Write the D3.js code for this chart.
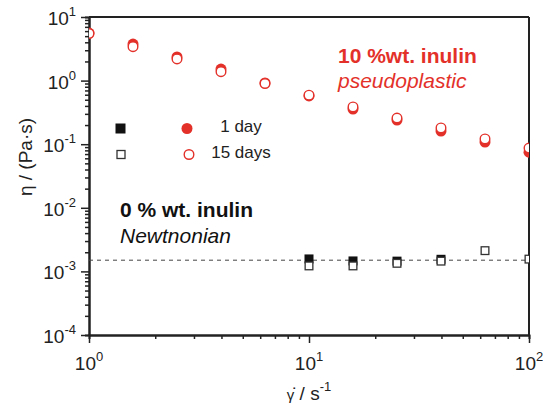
<!DOCTYPE html>
<html>
<head>
<meta charset="utf-8">
<script src="https://cdn.jsdelivr.net/npm/d3@7"></script>
<style>
  body { margin: 0; background: #fff; }
  svg { font-family: "Liberation Sans", Arial, sans-serif; }
  .axis path, .axis line { stroke: #222; }
</style>
</head>
<body>
<div id="chart"></div>
<script>
// shear rates (s^-1) and viscosities (Pa.s)
var shearRates = [1, 1.585, 2.512, 3.981, 6.31, 10, 15.85, 25.12, 39.81, 63.1, 100];
var inulin10Day1 = [5.6, 3.76, 2.35, 1.52, 0.92, 0.575, 0.357, 0.24, 0.161, 0.108, 0.075];
var inulin10Day15 = [5.5, 3.41, 2.19, 1.38, 0.90, 0.59, 0.385, 0.258, 0.18, 0.121, 0.087];

var waterRates = [10, 15.85, 25.12, 39.81, 63.1, 100];
var inulin0Day1 = [1.57e-3, 1.46e-3, 1.45e-3, 1.55e-3, null, null];
var inulin0Day15 = [1.22e-3, 1.22e-3, 1.34e-3, 1.45e-3, 2.12e-3, 1.56e-3];
var newtonianLevel = 1.5e-3;

var xExponents = [0, 1, 2];
var yExponents = [-4, -3, -2, -1, 0, 1];

var red = "#e3312a";
var margin = {top: 17, right: 14, bottom: 82, left: 89};
var width = 543 - margin.left - margin.right;
var height = 417 - margin.top - margin.bottom;

var svg = d3.select("#chart").append("svg")
  .attr("width", 543)
  .attr("height", 417);

var g = svg.append("g")
  .attr("transform", "translate(" + margin.left + "," + margin.top + ")");

var xScale = d3.scaleLog().domain([1, 100]).range([0, width]);
var yScale = d3.scaleLog().domain([1e-4, 10]).range([height, 0]);

function minorTicks(scale) {
  return scale.ticks().filter(function(v) {
    var e = Math.log10(v);
    return Math.abs(e - Math.round(e)) > 1e-6;
  });
}
function majorTicks(exps) { return exps.map(function(e) { return Math.pow(10, e); }); }

// clip so the edge markers get cut like in the original
g.append("clipPath").attr("id", "clip")
  .append("rect").attr("width", width).attr("height", height);

// minor ticks
g.append("g").attr("class", "axis")
  .attr("transform", "translate(0," + height + ")")
  .call(d3.axisBottom(xScale).tickValues(minorTicks(xScale)).tickSize(4).tickFormat(""));
g.append("g").attr("class", "axis")
  .call(d3.axisLeft(yScale).tickValues(minorTicks(yScale)).tickSize(4).tickFormat(""));

// major ticks
var xAxis = g.append("g").attr("class", "axis")
  .attr("transform", "translate(0," + height + ")")
  .call(d3.axisBottom(xScale).tickValues(majorTicks(xExponents)).tickSize(8).tickSizeOuter(0).tickFormat(""));
var yAxis = g.append("g").attr("class", "axis")
  .call(d3.axisLeft(yScale).tickValues(majorTicks(yExponents)).tickSize(8).tickSizeOuter(0).tickFormat(""));

g.selectAll(".axis path").attr("stroke-width", 2);
g.selectAll(".axis line").attr("stroke-width", 1.5);

// top and right frame
g.append("line").attr("x1", 0).attr("x2", width).attr("y1", 0).attr("y2", 0)
  .attr("stroke", "#222").attr("stroke-width", 2);
g.append("line").attr("x1", width).attr("x2", width).attr("y1", 0).attr("y2", height)
  .attr("stroke", "#222").attr("stroke-width", 2);

// tick labels with superscripts
xExponents.forEach(function(e) {
  var t = g.append("text")
    .attr("x", xScale(Math.pow(10, e)))
    .attr("y", height + 35)
    .attr("text-anchor", "middle")
    .attr("font-size", 19)
    .attr("fill", "#222");
  t.append("tspan").text("10");
  t.append("tspan").attr("dy", -9).attr("font-size", 13).text(e);
});
yExponents.forEach(function(e) {
  var t = g.append("text")
    .attr("x", -13)
    .attr("y", yScale(Math.pow(10, e)) + 8)
    .attr("text-anchor", "end")
    .attr("font-size", 19)
    .attr("fill", "#222");
  t.append("tspan").text("10");
  t.append("tspan").attr("dy", -9).attr("font-size", 13).text(e);
});

// axis titles
var xt = svg.append("text")
  .attr("x", margin.left + xScale(10))
  .attr("y", 400)
  .attr("text-anchor", "middle")
  .attr("fill", "#222");
xt.append("tspan").attr("font-size", 15).text("γ");
xt.append("tspan").attr("font-size", 19).text("\u0307 / s");
xt.append("tspan").attr("font-size", 13).attr("dy", -9).text("-1");

svg.append("text")
  .attr("transform", "translate(32," + 157 + ") rotate(-90)")
  .attr("text-anchor", "middle")
  .attr("font-size", 19)
  .attr("fill", "#222")
  .text("η / (Pa·s)");

// newtonian reference line
g.append("line")
  .attr("x1", 0).attr("x2", width)
  .attr("y1", yScale(newtonianLevel)).attr("y2", yScale(newtonianLevel))
  .attr("stroke", "#444").attr("stroke-width", 1)
  .attr("stroke-dasharray", "4,4");

var plot = g.append("g").attr("clip-path", "url(#clip)");

// 10 % inulin circles, 1 day under 15 days
plot.selectAll(".c1").data(shearRates).enter().append("circle")
  .attr("cx", function(d) { return xScale(d); })
  .attr("cy", function(d, i) { return yScale(inulin10Day1[i]); })
  .attr("r", 5.5)
  .attr("fill", red);
plot.selectAll(".c15").data(shearRates).enter().append("circle")
  .attr("cx", function(d) { return xScale(d); })
  .attr("cy", function(d, i) { return yScale(inulin10Day15[i]); })
  .attr("r", 4.8)
  .attr("fill", "#fff")
  .attr("stroke", red)
  .attr("stroke-width", 1.4);

// 0 % inulin squares
var sq = 9;
plot.selectAll(".s1").data(waterRates.filter(function(d, i) { return inulin0Day1[i] != null; }))
  .enter().append("rect")
  .attr("x", function(d) { return xScale(d) - sq / 2; })
  .attr("y", function(d, i) { return yScale(inulin0Day1[i]) - sq / 2; })
  .attr("width", sq).attr("height", sq)
  .attr("fill", "#111");
plot.selectAll(".s15").data(waterRates).enter().append("rect")
  .attr("x", function(d) { return xScale(d) - (sq - 1.3) / 2; })
  .attr("y", function(d, i) { return yScale(inulin0Day15[i]) - (sq - 1.3) / 2; })
  .attr("width", sq - 1.3).attr("height", sq - 1.3)
  .attr("fill", "#fff")
  .attr("stroke", "#333")
  .attr("stroke-width", 1.3);

// legend
svg.append("rect").attr("x", 115.5).attr("y", 123.5).attr("width", 10).attr("height", 10).attr("fill", "#111");
svg.append("circle").attr("cx", 187).attr("cy", 128.5).attr("r", 5.5).attr("fill", red);
svg.append("rect").attr("x", 117).attr("y", 150.5).attr("width", 8).attr("height", 8)
  .attr("fill", "#fff").attr("stroke", "#333").attr("stroke-width", 1.3);
svg.append("circle").attr("cx", 189).attr("cy", 154.5).attr("r", 4.8)
  .attr("fill", "#fff").attr("stroke", red).attr("stroke-width", 1.4);
svg.append("text").attr("x", 241).attr("y", 132).attr("text-anchor", "middle")
  .attr("font-size", 17).attr("fill", "#222").text("1 day");
svg.append("text").attr("x", 241).attr("y", 158).attr("text-anchor", "middle")
  .attr("font-size", 17).attr("fill", "#222").text("15 days");

// annotations
svg.append("text").attr("x", 338).attr("y", 63)
  .attr("font-size", 21).attr("font-weight", "bold").attr("fill", red).text("10 %wt. inulin");
svg.append("text").attr("x", 338).attr("y", 88)
  .attr("font-size", 21).attr("font-style", "italic").attr("fill", red).text("pseudoplastic");
svg.append("text").attr("x", 120).attr("y", 217)
  .attr("font-size", 21).attr("font-weight", "bold").attr("fill", "#111").text("0 % wt. inulin");
svg.append("text").attr("x", 120).attr("y", 243)
  .attr("font-size", 21).attr("font-style", "italic").attr("fill", "#111").text("Newtnonian");
</script>
</body>
</html>
